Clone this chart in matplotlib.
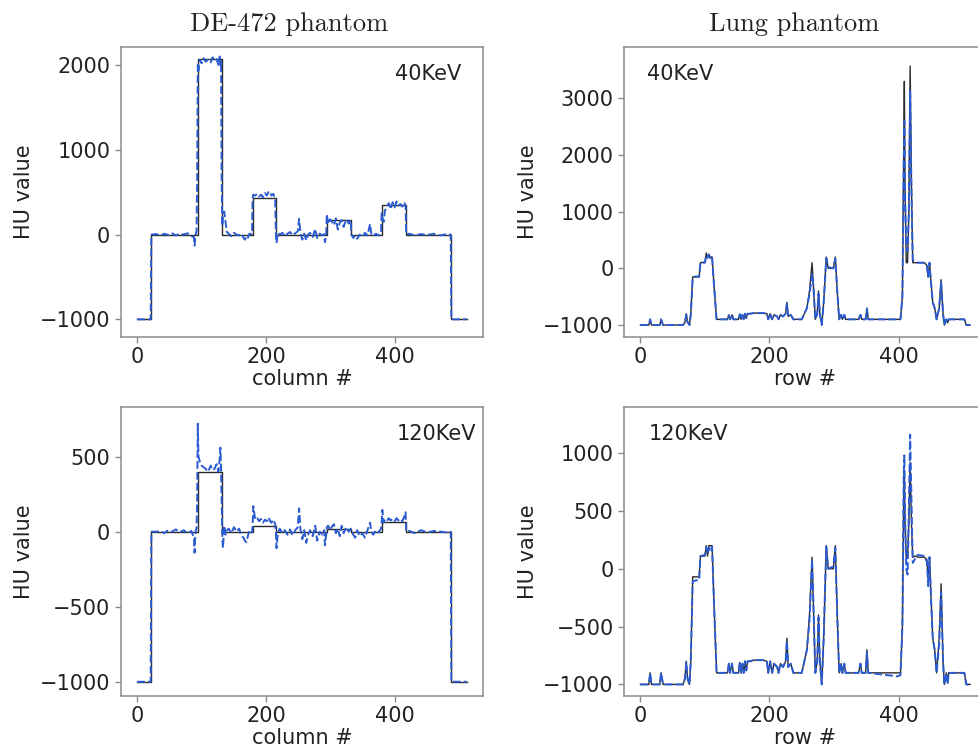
import matplotlib
matplotlib.use("Agg")
import matplotlib.pyplot as plt

# ---------------- data ----------------
# DE-472 phantom: ground truth (step profile)
de_true_cols = [0, 22, 22, 94, 94, 131, 131, 179, 179, 215, 215, 294, 294, 332, 332, 379, 379, 417, 417, 487, 487, 511]
de_true_40 = [-1000, -1000, 0, 0, 2070, 2070, 0, 0, 430, 430, 0, 0, 172, 172, 0, 0, 350, 350, 0, 0, -1000, -1000]
de_true_120 = [-1000, -1000, 0, 0, 400, 400, 0, 0, 40, 40, 0, 0, 15, 15, 0, 0, 65, 65, 0, 0, -1000, -1000]

# DE-472 phantom: reconstruction (dashed)
de_cols = [0, 21, 22, 30, 36, 42, 48, 54, 60, 66,
           72, 78, 84, 88, 89, 90, 91, 92, 93, 94,
           95, 97, 100, 103, 106, 110, 114, 117, 120, 123,
           126, 128, 129, 130, 131, 132, 133, 135, 137, 139,
           142, 146, 150, 154, 158, 162, 165, 167, 169, 171,
           174, 178, 179, 180, 183, 186, 189, 192, 195, 198,
           201, 204, 206, 208, 211, 214, 215, 216, 218, 221,
           225, 229, 233, 237, 241, 245, 249, 251, 253, 256,
           259, 262, 265, 268, 272, 276, 279, 283, 287, 290,
           291, 293, 294, 296, 299, 302, 305, 308, 311, 314,
           317, 320, 324, 328, 331, 332, 335, 338, 341, 345,
           349, 353, 357, 361, 363, 366, 370, 374, 378, 379,
           380, 382, 384, 387, 390, 393, 396, 399, 402, 405,
           408, 411, 414, 416, 417, 422, 430, 440, 450, 460,
           470, 480, 486, 487, 511]
de_recon_40 = [-1000, -1000, 0, 5, -10, 10, -5, 15, -10, 10,
               0, 15, -20, -30, -130, -40, 10, 30, 600, 2000,
               1930, 2060, 2020, 2080, 2040, 2060, 2030, 2090, 2050, 2070,
               2000, 2100, 2000, 2050, 600, 100, 250, 270, 150, 30,
               10, -20, 20, 0, -10, 10, -40, -60, -30, -50,
               10, 5, 430, 470, 460, 480, 450, 470, 440, 490,
               460, 510, 500, 460, 480, 420, 10, -100, 20, 0,
               20, -20, 10, 30, -10, 15, 40, 185, 20, -60,
               10, -70, 0, 20, -30, 65, -40, 10, -10, 5,
               -90, -10, 240, 125, 180, 150, 110, 190, 60, 140,
               170, 90, 180, 130, 170, 0, -40, -10, -50, 0,
               -30, 20, -10, 125, 0, -20, 10, -10, 20, 250,
               200, 150, 280, 330, 370, 300, 380, 320, 390, 340,
               360, 330, 380, 340, 0, 10, -10, 5, -5, 10,
               -10, 5, 0, -1000, -1000]
de_recon_120 = [-1000, -1000, 0, 0, 5, -10, 10, 0, 15, -5,
                10, -10, 5, -40, -140, -20, 10, 20, 200, 720,
                500, 470, 440, 430, 420, 400, 440, 410, 420, 450,
                400, 490, 560, 430, 200, -40, -110, 40, -20, 10,
                20, -10, 30, 0, 20, -30, -40, -60, -70, -40,
                10, -5, 40, 170, 80, 90, 70, 85, 60, 80,
                70, 95, 70, 60, 80, 50, 0, -110, -10, 20,
                -10, 10, -20, 15, -25, 10, 30, 155, 20, -50,
                10, -75, -20, 10, -30, 40, -60, 0, -20, 10,
                -90, -20, 30, 40, 10, 35, 50, -10, 20, -30,
                40, -10, 30, 0, 20, 0, -20, -40, 10, -30,
                -10, -40, 10, 60, 0, -20, 10, -5, 20, 65,
                145, 60, 80, 70, 90, 75, 85, 70, 90, 75,
                85, 70, 100, 130, 0, 5, -10, 10, -5, 5,
                0, -5, 0, -1000, -1000]

# Lung phantom
lung_rows = [0, 10, 13, 15, 17, 30, 32, 35, 66, 69,
             71, 73, 76, 78, 81, 86, 91, 93, 100, 102,
             104, 106, 108, 111, 114, 118, 135, 137, 139, 142,
             144, 152, 154, 156, 158, 160, 162, 164, 166, 170,
             175, 190, 196, 198, 201, 204, 207, 212, 214, 217,
             221, 225, 227, 229, 233, 237, 244, 250, 254, 258,
             262, 266, 268, 271, 274, 276, 278, 281, 284, 288,
             291, 299, 302, 305, 308, 311, 313, 316, 318, 338,
             341, 343, 349, 351, 353, 398, 403, 406, 408, 409,
             410, 412, 414, 416, 418, 420, 422, 426, 430, 440,
             444, 446, 448, 450, 453, 456, 459, 463, 466, 469,
             471, 474, 476, 478, 502, 505, 511]
lung_true_40 = [-1000, -1000, -1000, -900, -1000, -1000, -900, -1000, -1000, -950,
                -800, -950, -1000, -800, -150, -150, -150, 100, 110, 270,
                180, 250, 200, 200, -300, -900, -900, -820, -900, -820,
                -900, -900, -810, -900, -820, -900, -800, -880, -800, -800,
                -790, -790, -800, -900, -800, -900, -820, -850, -900, -820,
                -850, -800, -600, -850, -820, -900, -900, -900, -800, -700,
                -400, 100, -300, -900, -800, -400, -800, -1000, -600, 200,
                0, 0, 200, -400, -900, -820, -900, -820, -900, -900,
                -820, -900, -900, -700, -900, -900, -900, -500, 2000, 3300,
                1500, 100, 100, 1000, 3570, 1500, 100, 100, 100, 100,
                50, -150, 100, -200, -600, -700, -900, -700, -200, -800,
                -1000, -900, -960, -900, -900, -1000, -1000]
lung_recon_40 = [-1000, -1000, -1000, -900, -1000, -1000, -900, -1000, -1000, -950,
                 -820, -950, -1000, -820, -170, -140, -150, 100, 100, 230,
                 200, 240, 180, 210, -300, -900, -900, -830, -900, -820,
                 -900, -900, -810, -900, -820, -900, -800, -880, -800, -800,
                 -790, -790, -800, -900, -800, -900, -820, -850, -900, -820,
                 -850, -800, -620, -850, -820, -900, -900, -900, -800, -700,
                 -450, -100, -300, -900, -800, -450, -800, -1000, -600, 180,
                 20, 0, 170, -400, -900, -820, -900, -820, -900, -900,
                 -820, -900, -900, -720, -900, -900, -900, -500, 1800, 2600,
                 1300, 400, 300, 1000, 3130, 1400, 150, 120, 100, 100,
                 40, -150, 100, -200, -600, -700, -900, -700, -250, -800,
                 -1000, -900, -950, -900, -900, -1000, -1000]
lung_true_120 = [-1000, -1000, -1000, -900, -1000, -1000, -900, -1000, -1000, -950,
                 -800, -950, -1000, -800, -70, -70, -70, 110, 110, 200,
                 110, 200, 200, 200, -300, -900, -900, -820, -900, -820,
                 -900, -900, -810, -900, -820, -900, -800, -880, -800, -800,
                 -790, -790, -800, -900, -800, -900, -820, -850, -900, -820,
                 -850, -800, -600, -850, -820, -900, -900, -900, -800, -700,
                 -400, 100, -300, -900, -800, -400, -800, -1000, -600, 200,
                 0, 0, 200, -400, -900, -820, -900, -820, -900, -900,
                 -820, -900, -900, -700, -900, -900, -900, -500, 600, 850,
                 400, 100, 100, 400, 920, 400, 100, 110, 100, 100,
                 80, -100, 100, -200, -600, -700, -900, -600, -130, -800,
                 -1000, -900, -960, -900, -900, -1000, -1000]
lung_recon_120 = [-1000, -1000, -1000, -900, -1000, -1000, -900, -1000, -1000, -950,
                  -810, -950, -1000, -800, -110, -100, -100, 110, 120, 190,
                  130, 180, 150, 190, -300, -900, -900, -820, -900, -820,
                  -900, -900, -810, -900, -820, -900, -800, -880, -800, -800,
                  -790, -790, -800, -900, -800, -900, -820, -850, -900, -820,
                  -850, -800, -620, -850, -820, -900, -900, -900, -800, -700,
                  -450, 80, -300, -900, -800, -420, -800, -1000, -600, 190,
                  0, 20, 180, -400, -900, -820, -900, -820, -900, -900,
                  -820, -900, -900, -720, -900, -930, -920, -500, 800, 980,
                  500, 0, -50, 500, 1160, 600, 50, 90, 120, 110,
                  60, -150, 100, -200, -600, -700, -900, -650, -200, -800,
                  -1000, -900, -1000, -900, -900, -1000, -1000]

x_ticks = [0, 200, 400]
yticks_de_40 = [-1000, 0, 1000, 2000]
yticks_de_120 = [-1000, -500, 0, 500]
yticks_lung_40 = [-1000, 0, 1000, 2000, 3000]
yticks_lung_120 = [-1000, -500, 0, 500, 1000]

col_titles = ["DE-472 phantom", "Lung phantom"]
energy_labels = ["40KeV", "120KeV"]

# ---------------- figure ----------------
W, H = 979, 753
fig = plt.figure(figsize=(W / 100, H / 100), dpi=100)

def px_axes(left, top, right, bottom):
    return fig.add_axes([left / W, 1 - bottom / H, (right - left) / W, (bottom - top) / H])

TRUE_C = "#2b2b2b"
REC_C = "#2a5bd0"
SPINE_C = "#8a8a8a"
TXT_C = "#222222"
FS = 15

panels = [
    # (axes box, x_true, y_true, x_rec, y_rec, ylim, yticks, xlabel, label, label_x)
    ((120.7, 46.7, 483.3, 336.7), de_true_cols, de_true_40, de_cols, de_recon_40,
     (-1205, 2216), yticks_de_40, "column #", energy_labels[0], 0.757),
    ((624.0, 46.7, 986.6, 336.7), lung_rows, lung_true_40, lung_rows, lung_recon_40,
     (-1206, 3911), yticks_lung_40, "row #", energy_labels[0], 0.063),
    ((120.7, 406.7, 483.3, 696.0), de_true_cols, de_true_120, de_cols, de_recon_120,
     (-1095, 833), yticks_de_120, "column #", energy_labels[1], 0.761),
    ((624.0, 406.7, 986.6, 696.0), lung_rows, lung_true_120, lung_rows, lung_recon_120,
     (-1100, 1401), yticks_lung_120, "row #", energy_labels[1], 0.067),
]

for box, xt, yt, xr, yr, ylim, yt_ticks, xlab, lab, lab_x in panels:
    ax = px_axes(*box)
    ax.plot(xt, yt, color=TRUE_C, lw=1.0, zorder=2)
    ax.plot(xr, yr, color=REC_C, lw=1.4, ls=(0, (4, 1.6)), zorder=3)
    ax.set_xlim(-25.5, 536.5)
    ax.set_ylim(*ylim)
    ax.set_xticks(x_ticks)
    ax.set_yticks(yt_ticks)
    ax.tick_params(labelsize=FS, colors=SPINE_C, labelcolor=TXT_C, length=4, width=1)
    for s in ax.spines.values():
        s.set_color(SPINE_C)
        s.set_linewidth(1.1)
    ax.set_xlabel(xlab, fontsize=FS, color=TXT_C, labelpad=1)
    ax.set_ylabel("HU value", fontsize=FS, color=TXT_C)
    ax.text(lab_x, 0.906, lab, transform=ax.transAxes, fontsize=FS,
            color=TXT_C, ha="left", va="center")

fig.text(289 / W, 1 - 31 / H, col_titles[0], fontsize=19, family="cmr10",
         ha="center", va="baseline", color=TXT_C)
fig.text(794 / W, 1 - 31 / H, col_titles[1], fontsize=19, family="cmr10",
         ha="center", va="baseline", color=TXT_C)

fig.savefig("out.png", dpi=100)
